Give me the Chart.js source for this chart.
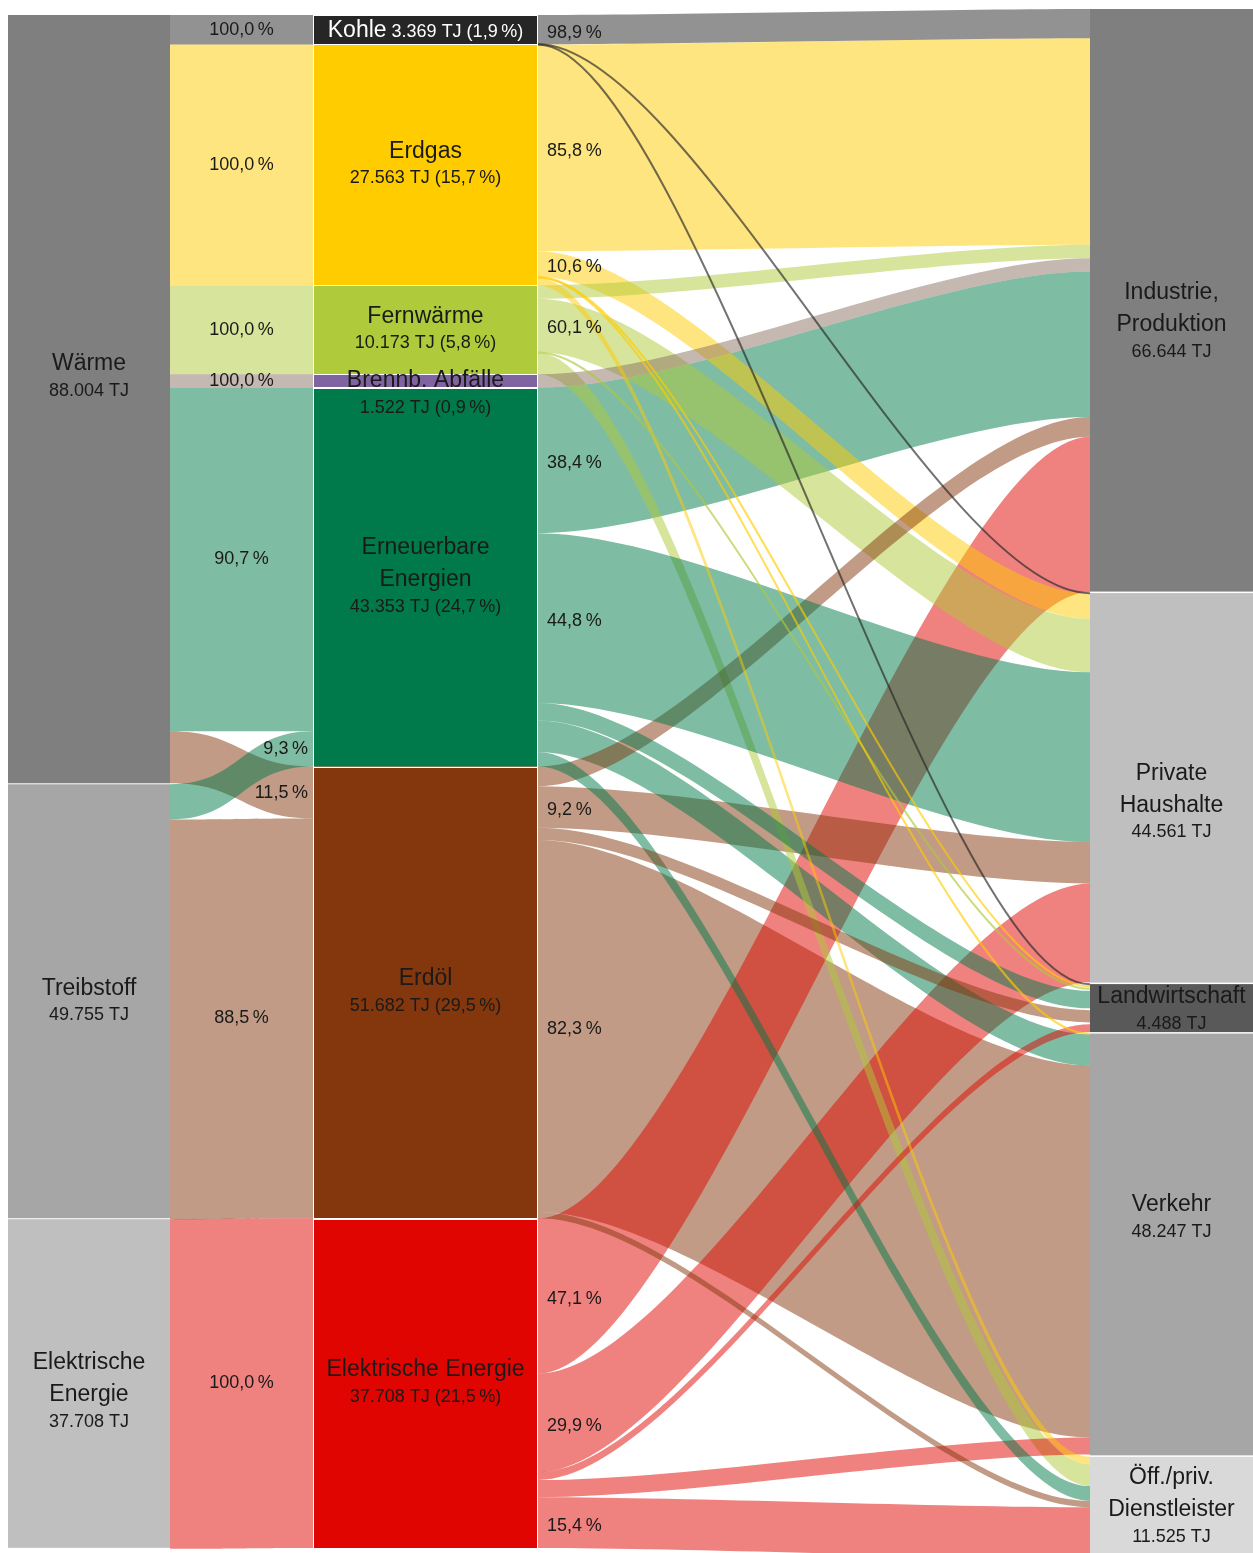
<!DOCTYPE html>
<html>
<head>
<meta charset="utf-8">
<script src="https://cdn.jsdelivr.net/npm/chart.js@4.4.1/dist/chart.umd.min.js"></script>
<style>
html,body{margin:0;padding:0;background:#ffffff;}
#wrap{width:1253px;height:1553px;position:relative;}
</style>
</head>
<body>
<div id="wrap"><canvas id="c" width="1253" height="1553"></canvas></div>
<script>
// ---------------- DATA ----------------
const useNames = ['Wärme', 'Treibstoff', 'Elektrische\nEnergie'];
const useValues = [88004, 49755, 37708];

const carrierNames = ['Kohle', 'Erdgas', 'Fernwärme', 'Brennb. Abfälle', 'Erneuerbare\nEnergien', 'Erdöl', 'Elektrische Energie'];
const carrierValues = [3369, 27563, 10173, 1522, 43353, 51682, 37708];
const carrierShares = ['1,9', '15,7', '5,8', '0,9', '24,7', '29,5', '21,5'];

const sectorNames = ['Industrie,\nProduktion', 'Private\nHaushalte', 'Landwirtschaft', 'Verkehr', 'Öff./priv.\nDienstleister'];
const sectorValues = [66644, 44561, 4488, 48247, 11525];

// Nutzung -> Energieträger
const inFrom   = [0, 0, 0, 0, 0, 0, 1, 1, 2];
const inTo     = [0, 1, 2, 3, 4, 5, 4, 5, 6];
const inValues = [3369, 27563, 10173, 1522, 39321, 5943, 4032, 45739, 37708];
const inShares = ['100,0', '100,0', '100,0', '100,0', '90,7', '11,5', '9,3', '88,5', '100,0'];

// Energieträger -> Sektor
const outFrom   = [0, 0, 0,  1, 1, 1, 1, 1,  2, 2, 2, 2,  3,  4, 4, 4, 4, 4,  5, 5, 5, 5, 5,  6, 6, 6, 6, 6];
const outTo     = [0, 1, 2,  0, 1, 2, 3, 4,  0, 1, 2, 4,  0,  0, 1, 2, 3, 4,  0, 1, 2, 3, 4,  0, 1, 2, 3, 4];
const outValues = [3332, 20, 17,
                   23649, 2922, 50, 60, 882,
                   1520, 6114, 79, 2460,
                   1522,
                   16648, 19422, 2000, 3600, 1683,
                   2250, 4755, 1400, 42534, 743,
                   17760, 11275, 900, 1966, 5807];
const outShares = ['98,9', null, null,
                   '85,8', '10,6', null, null, null,
                   null, '60,1', null, null,
                   null,
                   '38,4', '44,8', null, null, null,
                   null, '9,2', null, '82,3', null,
                   '47,1', '29,9', null, null, '15,4'];

// ---------------- STYLE ----------------
const STYLE = {
  font: "'Liberation Sans', Arial, sans-serif",
  text: '#1a1a1a',
  useColors: ['#7f7f7f', '#a6a6a6', '#bfbfbf'],
  sectorColors: ['#7f7f7f', '#bfbfbf', '#595959', '#a6a6a6', '#d9d9d9'],
  carrierColors: ['#262626', '#ffcc00', '#afca3a', '#8064a2', '#007a4a', '#84370c', '#e00500'],
  carrierTextColors: ['#ffffff', '#1a1a1a', '#1a1a1a', '#1a1a1a', '#1a1a1a', '#1a1a1a', '#1a1a1a'],
  flowRGB: ['38,38,38', '255,204,0', '175,202,58', '137,113,97', '0,122,74', '132,55,12', '224,5,0'],
  bandAlpha: 0.5, lineAlpha: 0.65,
  colL: [8, 170], colM: [313, 538], colR: [1090, 1253],
  rightStartPx: -6, nodeGapPx: 1.5, minNodePx: 48,
  curveOut: 150,
  zOverride: {'4>1': 2200},
  useLabelShift: [-22, 0, 8],
  sectorLabelShift: [22, 15, 2, -26, 0]
};

function fmt(n) { return String(n).replace(/\B(?=(\d{3})+(?!\d))/g, '.'); }
function pct(s) { return s + '\u2009%'; }

const sankeyPlugin = {
  id: 'sankeyDraw',
  afterDraw(chart) {
    const ctx = chart.ctx;
    const X = chart.scales.x, Y = chart.scales.y;
    const px = v => X.getPixelForValue(v);
    const py = v => Y.getPixelForValue(v);
    const ppt = (py(100000) - py(0)) / 100000;

    // nodes
    let cum = 0;
    const mid = carrierValues.map(v => { const n = {y0: cum, y1: cum + v}; cum += v; return n; });
    cum = 0;
    const left = useValues.map(v => { const n = {y0: cum, y1: cum + v}; cum += v; return n; });
    cum = STYLE.rightStartPx / ppt;
    const gap = STYLE.nodeGapPx / ppt;
    const right = sectorValues.map(v => {
      const h = Math.max(v, STYLE.minNodePx / ppt);
      const n = {y0: cum, y1: cum + h, enlarged: h > v}; cum += h + gap; return n;
    });

    // left flows geometry
    const lOut = left.map(n => n.y0), mIn = mid.map(n => n.y0);
    const leftFlows = inValues.map((v, i) => {
      const s = inFrom[i], t = inTo[i];
      const f = {v, i, s0: lOut[s], s1: lOut[s] + v, t0: mIn[t], t1: mIn[t] + v, c: t};
      lOut[s] += v; mIn[t] += v; return f;
    });
    // right flows geometry
    const mOut = mid.map(n => n.y0);
    const rIn = right.map(n => n.y0);
    const rCount = right.map(() => 0), rSum = right.map(() => 0);
    outValues.forEach((v, i) => { rCount[outTo[i]]++; rSum[outTo[i]] += v; });
    const rGap = right.map((n, j) => (n.enlarged && rCount[j] > 1) ? ((n.y1 - n.y0) - rSum[j]) / (rCount[j] - 1) : 0);
    const rightFlows = outValues.map((v, i) => {
      const s = outFrom[i], t = outTo[i];
      const f = {v, i, s0: mOut[s], s1: mOut[s] + v, t0: rIn[t], t1: rIn[t] + v, c: s, key: s + '>' + t};
      mOut[s] += v; rIn[t] += v + rGap[t]; return f;
    });

    function band(x0, a0, b0, x1, a1, b1, rgb, k) {
      const th = Math.max(b0 - a0, b1 - a1);
      ctx.beginPath();
      if (th < 2) {
        const m0 = (a0 + b0) / 2, m1 = (a1 + b1) / 2;
        ctx.moveTo(x0, m0);
        ctx.bezierCurveTo(x0 + k, m0, x1 - k, m1, x1, m1);
        ctx.strokeStyle = 'rgba(' + rgb + ',' + STYLE.lineAlpha + ')';
        ctx.lineWidth = 2;
        ctx.stroke();
        return;
      }
      ctx.moveTo(x0, a0);
      ctx.bezierCurveTo(x0 + k, a0, x1 - k, a1, x1, a1);
      ctx.lineTo(x1, b1);
      ctx.bezierCurveTo(x1 - k, b1, x0 + k, b0, x0, b0);
      ctx.closePath();
      ctx.fillStyle = 'rgba(' + rgb + ',' + STYLE.bandAlpha + ')';
      ctx.fill();
    }

    ctx.save();
    // left flows
    const lx0 = px(STYLE.colL[1]), lx1 = px(STYLE.colM[0]);
    [...leftFlows].sort((a, b) => b.v - a.v).forEach(f => {
      band(lx0, py(f.s0), py(f.s1), lx1, py(f.t0), py(f.t1), STYLE.flowRGB[f.c], (lx1 - lx0) / 2);
    });
    // right flows
    const rx0 = px(STYLE.colM[1]), rx1 = px(STYLE.colR[0]);
    const zk = f => (STYLE.zOverride[f.key] !== undefined ? STYLE.zOverride[f.key] : f.v);
    [...rightFlows].sort((a, b) => zk(b) - zk(a)).forEach(f => {
      band(rx0, py(f.s0), py(f.s1), rx1, py(f.t0), py(f.t1), STYLE.flowRGB[f.c], STYLE.curveOut);
    });

    // nodes
    left.forEach((n, i) => {
      ctx.fillStyle = STYLE.useColors[i];
      ctx.fillRect(px(STYLE.colL[0]), py(n.y0), px(STYLE.colL[1]) - px(STYLE.colL[0]), py(n.y1) - py(n.y0) - 1);
    });
    right.forEach((n, i) => {
      ctx.fillStyle = STYLE.sectorColors[i];
      ctx.fillRect(px(STYLE.colR[0]), py(n.y0), px(STYLE.colR[1]) - px(STYLE.colR[0]), py(n.y1) - py(n.y0));
    });
    mid.forEach((n, i) => {
      ctx.fillStyle = STYLE.carrierColors[i];
      ctx.fillRect(px(STYLE.colM[0]), py(n.y0), px(STYLE.colM[1]) - px(STYLE.colM[0]), py(n.y1) - py(n.y0));
    });
    ctx.strokeStyle = '#ffffff'; ctx.lineWidth = 1;
    mid.forEach(n => {
      ctx.strokeRect(px(STYLE.colM[0]) + 0.5, Math.round(py(n.y0)) + 0.5, px(STYLE.colM[1]) - px(STYLE.colM[0]) - 1, Math.round(py(n.y1) - py(n.y0)));
    });

    // text helpers
    ctx.textBaseline = 'middle';
    function block(lines, valueLine, cx, cy, color) {
      const span = (lines.length - 1) * 32 + 27;
      let y = cy - span / 2;
      ctx.fillStyle = color; ctx.textAlign = 'center';
      ctx.font = '23px ' + STYLE.font;
      lines.forEach((l, k) => { ctx.fillText(l, cx, y + k * 32); });
      ctx.font = '18px ' + STYLE.font;
      ctx.fillText(valueLine, cx, y + (lines.length - 1) * 32 + 27);
    }

    const lcx = (px(STYLE.colL[0]) + px(STYLE.colL[1])) / 2;
    left.forEach((n, i) => block(useNames[i].split('\n'), fmt(useValues[i]) + ' TJ', lcx, (py(n.y0) + py(n.y1)) / 2 + STYLE.useLabelShift[i], STYLE.text));
    const rcx = (px(STYLE.colR[0]) + px(STYLE.colR[1])) / 2;
    right.forEach((n, i) => block(sectorNames[i].split('\n'), fmt(sectorValues[i]) + ' TJ', rcx, (py(n.y0) + py(n.y1)) / 2 + STYLE.sectorLabelShift[i], STYLE.text));

    const mcx = (px(STYLE.colM[0]) + px(STYLE.colM[1])) / 2;
    mid.forEach((n, i) => {
      const top = py(n.y0), bot = py(n.y1), cy = (top + bot) / 2, h = bot - top;
      const val = fmt(carrierValues[i]) + ' TJ (' + pct(carrierShares[i]) + ')';
      const lines = carrierNames[i].split('\n');
      const col = STYLE.carrierTextColors[i];
      if (h >= 40) { block(lines, val, mcx, cy, col); return; }
      ctx.font = '23px ' + STYLE.font; const w1 = ctx.measureText(lines[0]).width;
      ctx.font = '18px ' + STYLE.font; const w2 = ctx.measureText(' ' + val).width;
      if (w1 + w2 < px(STYLE.colM[1]) - px(STYLE.colM[0]) - 10) {
        ctx.fillStyle = col; ctx.textAlign = 'left';
        const sx = mcx - (w1 + w2) / 2;
        ctx.font = '23px ' + STYLE.font; ctx.fillText(lines[0], sx, cy + 1);
        ctx.font = '18px ' + STYLE.font; ctx.fillText(' ' + val, sx + w1, cy + 2);
      } else {
        ctx.fillStyle = col; ctx.textAlign = 'center';
        ctx.font = '23px ' + STYLE.font; ctx.fillText(lines[0], mcx, cy);
        ctx.font = '18px ' + STYLE.font; ctx.fillText(val, mcx, cy + 27);
      }
    });

    ctx.font = '18px ' + STYLE.font; ctx.fillStyle = STYLE.text;
    leftFlows.forEach(f => {
      const sc = py((f.s0 + f.s1) / 2), tc = py((f.t0 + f.t1) / 2);
      if (Math.abs(sc - tc) < 6) { ctx.textAlign = 'center'; ctx.fillText(pct(inShares[f.i]), (lx0 + lx1) / 2, tc); }
      else { ctx.textAlign = 'right'; ctx.fillText(pct(inShares[f.i]), lx1 - 5, tc); }
    });
    ctx.textAlign = 'left';
    rightFlows.forEach(f => {
      if (!outShares[f.i]) return;
      ctx.fillText(pct(outShares[f.i]), rx0 + 9, py((f.s0 + f.s1) / 2) + 3);
    });
    ctx.restore();
  }
};

const TOTAL = carrierValues.reduce((a, b) => a + b, 0);
new Chart(document.getElementById('c').getContext('2d'), {
  type: 'scatter',
  data: { datasets: [{ data: [], pointRadius: 0 }] },
  options: {
    responsive: false,
    animation: false,
    devicePixelRatio: 1,
    layout: { padding: { top: 15, bottom: 5, left: 0, right: 0 } },
    plugins: { legend: { display: false }, tooltip: { enabled: false } },
    scales: {
      x: { type: 'linear', min: 0, max: 1253, display: false },
      y: { type: 'linear', min: 0, max: TOTAL, reverse: true, display: false }
    }
  },
  plugins: [sankeyPlugin]
});
</script>
</body>
</html>
